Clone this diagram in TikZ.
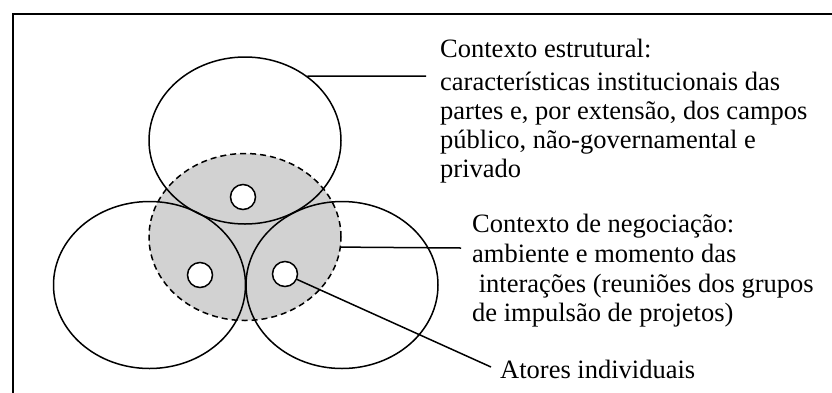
\documentclass[tikz,border=0pt]{standalone}
\usepackage{fontspec}
\setmainfont{Liberation Serif}
\usetikzlibrary{shapes.geometric}
\begin{document}
\begin{tikzpicture}[x=1pt,y=-1pt,
  big/.style={ellipse,draw,line width=1.5pt,minimum width=192pt,minimum height=167pt,inner sep=0pt},
  small/.style={circle,draw,line width=1.5pt,fill=white,minimum size=25pt,inner sep=0pt},
  conn/.style={line width=1.5pt},
  lbl/.style={anchor=base west,inner sep=0pt,font=\fontsize{26.5}{30}\selectfont}]
\useasboundingbox (0,0) rectangle (832,392);
\draw[line width=1.5pt] (13,400) -- (13,14) -- (840,14);
% negotiation context
\node[big,draw=none,fill=gray!35] (neg) at (245,237) {};
\node[big,dash pattern=on 6pt off 4pt] at (245,237) {};
\node[big] (topE) at (245,140.5) {};
\node[big] (leftE) at (149.5,285) {};
\node[big] (rightE) at (342,285) {};
\node[small] (st) at (243,197) {};
\node[small] (sl) at (200,275) {};
\node[small] (sr) at (285,274) {};
\coordinate (c1) at (426,76);
\coordinate (c2) at (461,248);
\coordinate (c3) at (491,367);
\draw[conn] (topE.46.6) -- (c1);
\draw[conn] (neg.-6.6) -- (c2);
\draw[conn] (sr) -- (c3);
\node[lbl] (t1) at (440,57) {Contexto estrutural:};
\node[lbl] (t2) at (440,90) {características institucionais das};
\node[lbl] (t3) at (440,119) {partes e, por extensão, dos campos};
\node[lbl] (t4) at (440,148) {público, não-governamental e};
\node[lbl] (t5) at (440,177) {privado};
\node[lbl] (n1) at (472,232) {Contexto de negociação:};
\node[lbl] (n2) at (472,262) {ambiente e momento das};
\node[lbl] (n3) at (472,292) {\ interações (reuniões dos grupos};
\node[lbl] (n4) at (472,321) {de impulsão de projetos)};
\node[lbl] (a1) at (500,378) {Atores individuais};
\end{tikzpicture}
\end{document}
